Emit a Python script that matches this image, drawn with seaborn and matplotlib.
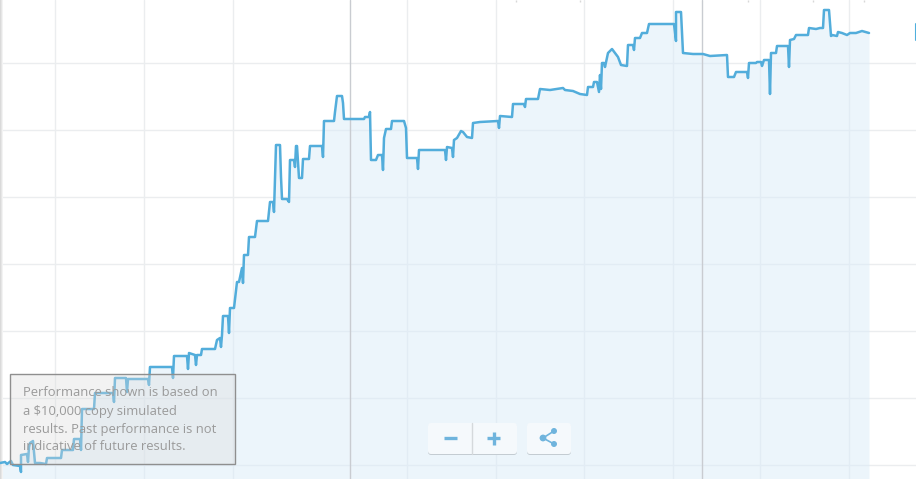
import matplotlib
matplotlib.use("Agg")
import matplotlib.pyplot as plt
from matplotlib.patches import FancyBboxPatch, Rectangle, Circle
import seaborn as sns

# valores
days = [0, 5, 7, 11, 13, 20, 21, 21, 27, 28, 29, 30, 33, 35, 40, 46, 47, 61, 62, 73,
        74, 80, 81, 82, 94, 95, 113, 114, 115, 126, 127, 128, 148, 149, 150, 172, 173, 174, 187, 188,
        189, 195, 196, 197, 201, 202, 215, 217, 220, 221, 222, 223, 228, 229, 230, 234, 237, 239, 242, 243,
        244, 248, 249, 255, 257, 268, 270, 273, 274, 276, 280, 281, 282, 287, 289, 290, 294, 295, 296, 297,
        299, 302, 303, 309, 310, 322, 323, 324, 334, 335, 337, 342, 343, 344, 364, 365, 369, 370, 371, 376,
        378, 382, 383, 384, 386, 391, 392, 404, 406, 407, 417, 418, 419, 445, 446, 447, 452, 453, 454, 457,
        461, 463, 467, 472, 473, 480, 498, 499, 500, 512, 513, 524, 525, 526, 538, 540, 550, 563, 565, 573,
        580, 587, 588, 593, 594, 597, 599, 600, 601, 602, 604, 605, 608, 612, 615, 618, 621, 627, 628, 633,
        634, 635, 640, 642, 647, 649, 674, 676, 676, 681, 683, 693, 703, 710, 727, 728, 734, 736, 747, 748,
        749, 756, 757, 761, 762, 764, 769, 770, 771, 776, 777, 788, 789, 790, 794, 796, 808, 809, 816, 820,
        823, 824, 829, 831, 832, 837, 838, 842, 847, 850, 856, 862, 869]
equity = [2, 3, 1, 4, 0, -1, -7, 10, 11, 3, 18, 22, 24, 2, 2, 1, 7, 7, 15, 15,
          26, 26, 15, 56, 56, 72, 72, 63, 87, 87, 73, 86, 86, 80, 98, 98, 87, 109, 109, 96,
          112, 110, 100, 110, 110, 116, 116, 125, 127, 118, 130, 149, 149, 132, 157, 157, 183, 183, 197, 182,
          210, 210, 228, 228, 244, 244, 263, 263, 253, 320, 320, 288, 266, 266, 263, 305, 305, 298, 319, 319,
          287, 287, 306, 306, 319, 319, 308, 344, 344, 353, 369, 369, 362, 346, 346, 348, 348, 353, 305, 305,
          310, 310, 295, 327, 336, 336, 344, 344, 337, 307, 307, 296, 315, 315, 305, 318, 317, 308, 325, 327,
          334, 333, 328, 327, 342, 343, 344, 337, 349, 348, 361, 361, 358, 366, 366, 376, 375, 377, 375, 374,
          371, 370, 378, 378, 383, 383, 373, 390, 376, 402, 402, 398, 412, 416, 412, 408, 400, 399, 420, 420,
          415, 427, 427, 432, 432, 441, 441, 424, 453, 453, 412, 411, 411, 409, 410, 388, 388, 393, 393, 387,
          402, 402, 403, 403, 399, 405, 405, 371, 412, 412, 419, 419, 398, 425, 426, 430, 430, 437, 436, 437,
          437, 455, 455, 429, 430, 429, 433, 432, 430, 432, 432, 434, 432]

x_grid = [55, 144, 233, 407, 496, 584, 673, 760, 849]
x_grid_dark = [350, 702]
y_grid = [0, 67, 134, 201, 268, 335, 402]
top_marks = [516, 580, 748, 813, 864]

note_lines = ["Performance shown is based on",
              "a $10,000 copy simulated",
              "results. Past performance is not",
              "indicative of future results."]

sns.set_theme(style="white")
plt.rcParams['font.family'] = ['Open Sans', 'DejaVu Sans']

fig = plt.figure(figsize=(9.16, 4.79), dpi=100)
ax = fig.add_axes([0, 0, 1, 1])

# rejilla
ax.set_xticks(x_grid)
ax.set_yticks(y_grid)
ax.grid(True, color='#ebedef', linewidth=1)
ax.tick_params(left=False, bottom=False, labelleft=False, labelbottom=False)
for xd in x_grid_dark:
    ax.axvline(xd, color='#c9ccd1', linewidth=1, zorder=1.5)
ax.vlines(top_marks, 463.5, 465, color='#d8d8d8', linewidth=1)

# sombra del borde izquierdo
for i, col in enumerate(['#dadada', '#e6e6e6', '#f3f3f3']):
    ax.axvspan(i, i + 1, color=col, linewidth=0, zorder=2)

# area + linea
ax.fill_between(days, equity, -14, color='#dbecf9', alpha=0.5, linewidth=0, zorder=1)
sns.lineplot(x=days, y=equity, ax=ax, estimator=None, sort=False, color='#52addb',
             linewidth=1.8, zorder=3)

ax.set_xlim(0, 916)
ax.set_ylim(-14, 465)
sns.despine(ax=ax, left=True, bottom=True)
ax.set_xlabel('')
ax.set_ylabel('')

# caja de aviso
ax.add_patch(Rectangle((10, 1), 225, 90, facecolor='#dcdcdc', alpha=0.35, edgecolor='none', zorder=4))
ax.add_patch(Rectangle((10, 1), 225, 90, facecolor='none', edgecolor='#8f8f8f', linewidth=1, zorder=5))
for i, txt in enumerate(note_lines):
    ax.text(23, 72 - i * 18, txt, fontsize=9.4, color='#9a9a9a', va='center', ha='left', zorder=5)

# botones
for bx, bw in [(428, 89), (527, 44)]:
    ax.add_patch(FancyBboxPatch((bx, 10), bw, 31, boxstyle='round,pad=0,rounding_size=3',
                                facecolor='#c4ccd2', edgecolor='none', zorder=5))
    ax.add_patch(FancyBboxPatch((bx, 11), bw, 31, boxstyle='round,pad=0,rounding_size=3',
                                facecolor='#f5f9fc', edgecolor='none', zorder=6))
ax.plot([471.5, 471.5], [11, 42], color='#d5d9dc', linewidth=1, zorder=7)
ax.plot([444, 457], [27, 27], color='#6fb4dd', linewidth=2.4, solid_capstyle='butt', zorder=7)
ax.plot([487, 500], [27, 27], color='#6fb4dd', linewidth=2.4, solid_capstyle='butt', zorder=7)
ax.plot([493.5, 493.5], [20.5, 33.5], color='#6fb4dd', linewidth=2.4, solid_capstyle='butt', zorder=7)
ax.plot([554, 543, 554], [34, 27, 21], color='#6fb4dd', linewidth=1.2, zorder=7)
for cx, cy, r in [(554, 34, 3), (543, 27, 3.4), (554, 21, 3)]:
    ax.add_patch(Circle((cx, cy), r, color='#6fb4dd', linewidth=0, zorder=8))

# marca arriba a la derecha
ax.plot([915.5, 915.5], [425, 441], color='#4fafdd', linewidth=1.5, zorder=3)

fig.savefig('out.png', dpi=100)
